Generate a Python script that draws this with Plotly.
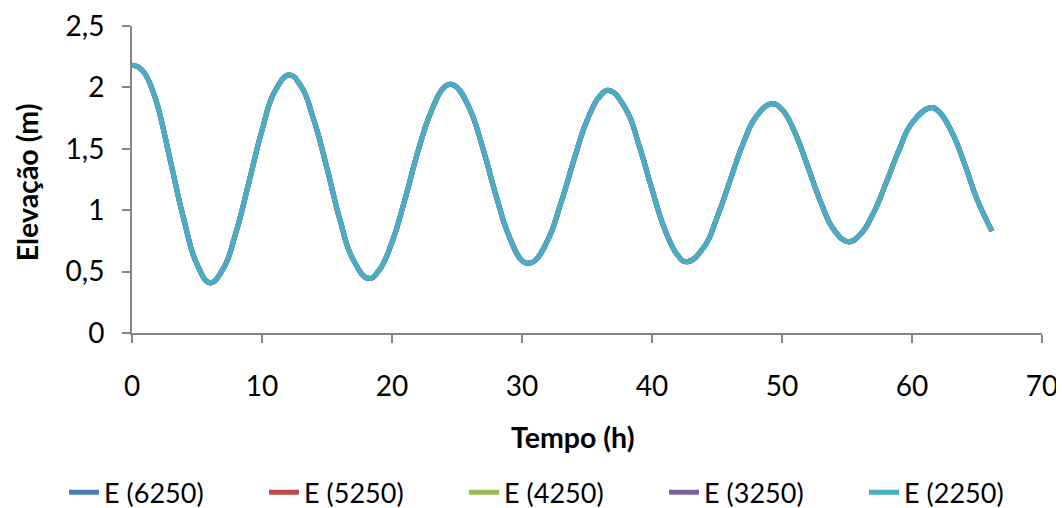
import plotly.graph_objects as go

# Time axis (hours); extra samples placed at the read peaks/troughs
time_h = [0, 0.5, 1, 1.5, 2, 3, 4, 5, 6, 7, 8, 9, 10, 11, 12.1,
          13, 14, 15, 16, 17, 18.2, 19, 20, 21, 22, 23, 24, 24.55,
          25, 26, 27, 28, 29, 30, 30.5, 31, 32, 33, 34, 35, 36, 36.7,
          38, 39, 40, 41, 42, 42.7, 44, 45, 46, 47, 48, 49.2,
          50, 51, 52, 53, 54, 55.1, 56, 57, 58, 59, 60, 61.4,
          62, 63, 64, 65, 66.15]

# Elevation (m); the five series overlap almost perfectly
e_2250 = [2.18, 2.165, 2.11, 2.00, 1.84, 1.38, 0.92, 0.56, 0.41, 0.52, 0.82, 1.23, 1.65, 1.97, 2.10,
          2.01, 1.73, 1.34, 0.92, 0.60, 0.445, 0.51, 0.74, 1.09, 1.48, 1.80, 2.00, 2.025,
          2.00, 1.82, 1.50, 1.12, 0.79, 0.59, 0.568, 0.59, 0.76, 1.06, 1.41, 1.73, 1.93, 1.975,
          1.82, 1.53, 1.17, 0.84, 0.63, 0.58, 0.70, 0.94, 1.24, 1.54, 1.76, 1.867,
          1.82, 1.63, 1.35, 1.06, 0.84, 0.744, 0.80, 0.97, 1.22, 1.49, 1.71, 1.834,
          1.81, 1.65, 1.39, 1.09, 0.83]
e_3250 = list(e_2250)
e_4250 = list(e_2250)
e_5250 = list(e_2250)
e_6250 = list(e_2250)

series_names = ["E (6250)", "E (5250)", "E (4250)", "E (3250)", "E (2250)"]
series_values = [e_6250, e_5250, e_4250, e_3250, e_2250]
series_colors = ["#4A7EBB", "#BE4B48", "#98B954", "#7D60A0", "#4BACC6"]

x_tick_vals = [0, 10, 20, 30, 40, 50, 60, 70]
y_tick_vals = [0, 0.5, 1, 1.5, 2, 2.5]
y_tick_labels = ["0", "0,5", "1", "1,5", "2", "2,5"]

FONT = "Lato"
fig = go.Figure()
for name, vals, col in zip(series_names, series_values, series_colors):
    fig.add_trace(go.Scatter(x=time_h, y=vals, name=name, mode="lines",
                             line=dict(color=col, width=5, shape="spline", smoothing=1.3)))

axis_common = dict(showgrid=False, zeroline=False, showline=True, linecolor="#868686",
                   linewidth=2, ticks="outside", tickcolor="#868686", ticklen=8, tickwidth=2,
                   ticklabeloverflow="allow",
                   tickfont=dict(family=FONT, size=28, color="#000000"))

fig.update_layout(
    width=1056, height=500,
    margin=dict(l=124, r=22, t=18, b=175, autoexpand=False),
    paper_bgcolor="white", plot_bgcolor="white",
    font=dict(family=FONT, color="#000000"),
    xaxis=dict(range=[0, 70], tickvals=x_tick_vals, ticklabelstandoff=19, **axis_common),
    yaxis=dict(range=[0, 2.5], tickvals=y_tick_vals, ticktext=y_tick_labels,
               ticklabelstandoff=12, **axis_common),
    showlegend=True,
    legend=dict(orientation="h", x=-0.0747, xanchor="left", y=-0.52, yanchor="middle",
                entrywidth=155, entrywidthmode="pixels",
                font=dict(family=FONT, size=27, color="#000000")),
    annotations=[
        dict(text="<b>Tempo (h)</b>", xref="paper", yref="paper", x=0.4845, y=-0.339,
             xanchor="center", yanchor="middle", showarrow=False,
             font=dict(family=FONT, size=28.5, color="#000000")),
        dict(text="<b>Elevação (m)</b>", xref="paper", yref="paper", x=-0.115, y=0.492,
             xanchor="center", yanchor="middle", textangle=-90, showarrow=False,
             font=dict(family=FONT, size=28.5, color="#000000")),
    ],
)

fig.write_html("out.html")
